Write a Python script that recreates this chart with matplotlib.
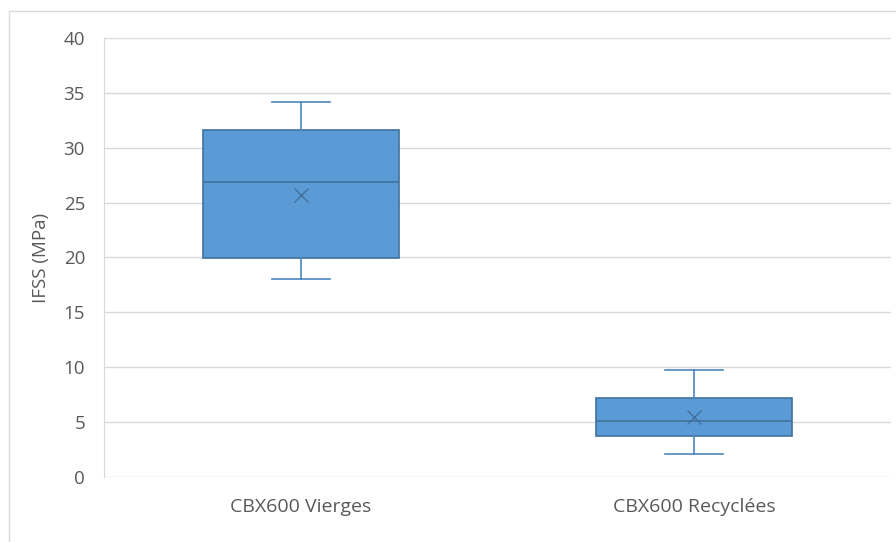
import matplotlib
matplotlib.use("Agg")
import matplotlib.pyplot as plt
from matplotlib.patches import Rectangle

categories = ["CBX600 Vierges", "CBX600 Recyclées"]
whisker_low = [18.0, 2.1]
q1 = [19.95, 3.7]
median = [26.9, 5.1]
q3 = [31.6, 7.2]
whisker_high = [34.2, 9.75]
means = [25.7, 5.5]

plt.rcParams['font.family'] = ['Open Sans', 'DejaVu Sans']

fig = plt.figure(figsize=(8.96, 5.42), dpi=100)
ax = fig.add_axes([0.1166, 0.12, 0.8773, 0.81])

# light chart border
fig.patches.append(Rectangle((9 / 896, -0.01), 1.0, 1 - 11 / 542 + 0.01,
                             transform=fig.transFigure, fill=False,
                             edgecolor='#d9d9d9', linewidth=1.0))

stats = []
for i in range(len(categories)):
    stats.append(dict(label=categories[i], whislo=whisker_low[i], q1=q1[i],
                      med=median[i], q3=q3[i], whishi=whisker_high[i],
                      mean=means[i]))

fill = '#5b9bd5'
edge = '#41719c'
ax.bxp(stats, positions=range(len(categories)), widths=0.5, patch_artist=True,
       showmeans=True, showfliers=False,
       boxprops=dict(facecolor=fill, edgecolor=edge, linewidth=1.2),
       medianprops=dict(color=edge, linewidth=1.2),
       whiskerprops=dict(color='#4a86c0', linewidth=1.2),
       capprops=dict(color='#4a86c0', linewidth=1.2),
       capwidths=0.148,
       meanprops=dict(marker='x', markeredgecolor=edge, markersize=10,
                      markeredgewidth=1.0))

ax.set_xlim(-0.5, 1.5)
ax.set_ylim(0, 40)
ax.set_yticks(range(0, 41, 5))
ax.yaxis.grid(True, color='#d9d9d9', linewidth=1.0)
ax.set_axisbelow(True)
for s in ['top', 'right', 'bottom']:
    ax.spines[s].set_visible(False)
ax.spines['left'].set_color('#d9d9d9')
ax.tick_params(length=0, labelsize=13.5, colors='#595959')
ax.tick_params(axis='x', labelsize=14, pad=15)
ax.tick_params(axis='y', pad=14)
ax.set_ylabel('IFSS (MPa)', fontsize=13.5, color='#595959', labelpad=10)

fig.savefig('out.png', dpi=100)
